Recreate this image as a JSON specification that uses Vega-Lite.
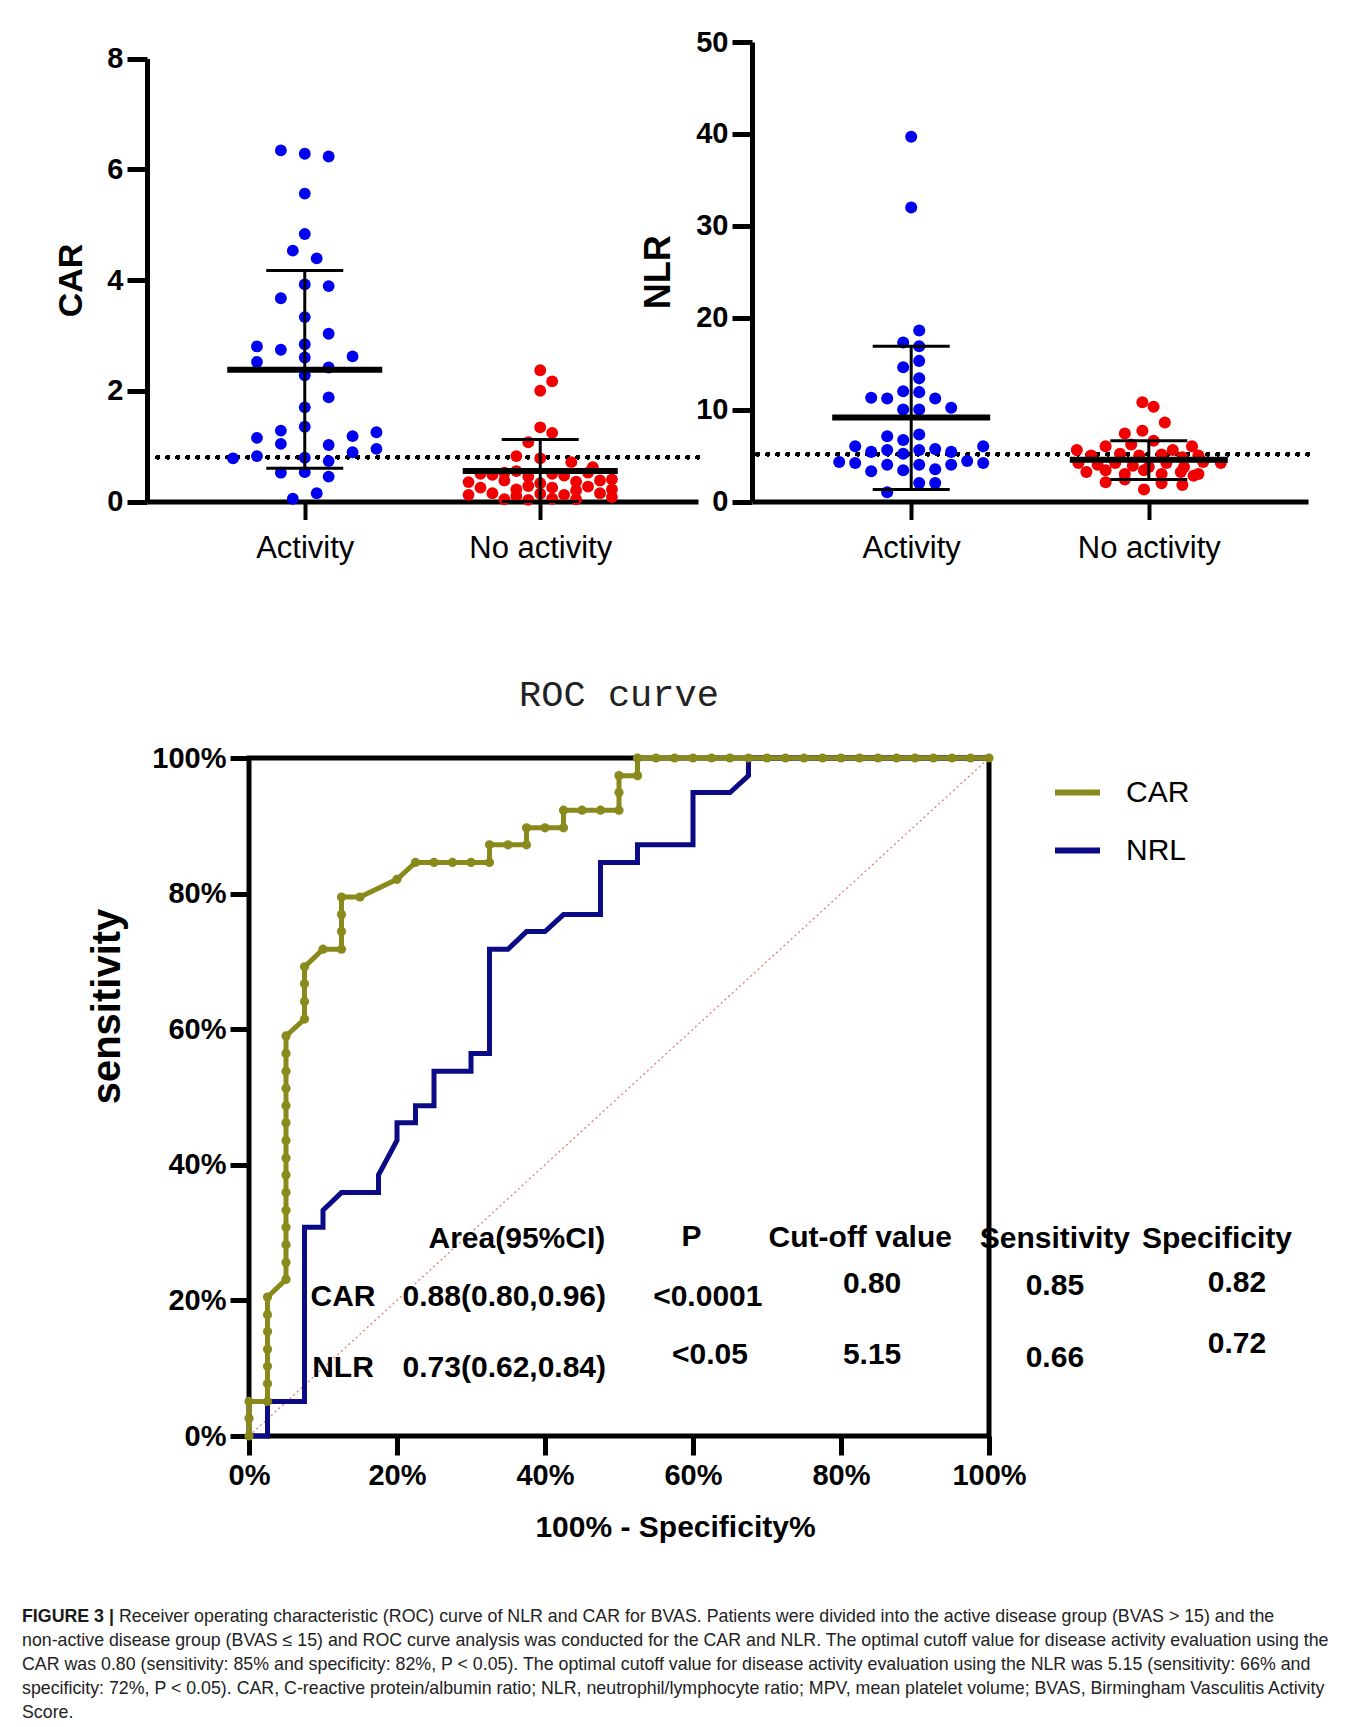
{
  "$schema": "https://vega.github.io/schema/vega-lite/v6.json",
  "background": "white",
  "padding": {"left": 22, "top": 28, "right": 5, "bottom": 3},
  "config": {
    "view": {"stroke": null},
    "font": "Liberation Sans",
    "axis": {"labelFont": "Liberation Sans", "titleFont": "Liberation Sans", "labelColor": "black", "titleColor": "black", "domainColor": "black", "tickColor": "black", "grid": false},
    "text": {"font": "Liberation Sans"},
    "tick": {"opacity": 1}
  },
  "datasets": {
    "car": [
      {"group": "Activity", "value": 6.34, "slot": -1},
      {"group": "Activity", "value": 6.28, "slot": 0},
      {"group": "Activity", "value": 6.23, "slot": 1},
      {"group": "Activity", "value": 5.56, "slot": 0},
      {"group": "Activity", "value": 4.83, "slot": 0},
      {"group": "Activity", "value": 4.53, "slot": -0.5},
      {"group": "Activity", "value": 4.39, "slot": 0.5},
      {"group": "Activity", "value": 3.92, "slot": 0},
      {"group": "Activity", "value": 3.89, "slot": 1},
      {"group": "Activity", "value": 3.67, "slot": -1},
      {"group": "Activity", "value": 3.33, "slot": 0},
      {"group": "Activity", "value": 3.03, "slot": 1},
      {"group": "Activity", "value": 2.80, "slot": -2},
      {"group": "Activity", "value": 2.74, "slot": -1},
      {"group": "Activity", "value": 2.84, "slot": 0},
      {"group": "Activity", "value": 2.60, "slot": 0},
      {"group": "Activity", "value": 2.62, "slot": 2},
      {"group": "Activity", "value": 2.52, "slot": -2},
      {"group": "Activity", "value": 2.42, "slot": 1},
      {"group": "Activity", "value": 2.28, "slot": 0},
      {"group": "Activity", "value": 1.88, "slot": 1},
      {"group": "Activity", "value": 1.70, "slot": 0},
      {"group": "Activity", "value": 1.35, "slot": 0},
      {"group": "Activity", "value": 1.28, "slot": -1},
      {"group": "Activity", "value": 1.25, "slot": 3},
      {"group": "Activity", "value": 1.15, "slot": -2},
      {"group": "Activity", "value": 1.18, "slot": 2},
      {"group": "Activity", "value": 1.04, "slot": -1},
      {"group": "Activity", "value": 1.02, "slot": 1},
      {"group": "Activity", "value": 0.95, "slot": 3},
      {"group": "Activity", "value": 0.89, "slot": 2},
      {"group": "Activity", "value": 0.78, "slot": -3},
      {"group": "Activity", "value": 0.82, "slot": -2},
      {"group": "Activity", "value": 0.79, "slot": 0},
      {"group": "Activity", "value": 0.73, "slot": 1},
      {"group": "Activity", "value": 0.52, "slot": -1},
      {"group": "Activity", "value": 0.53, "slot": 0},
      {"group": "Activity", "value": 0.45, "slot": 1},
      {"group": "Activity", "value": 0.15, "slot": 0.5},
      {"group": "Activity", "value": 0.05, "slot": -0.5},
      {"group": "No activity", "value": 2.37, "slot": 0},
      {"group": "No activity", "value": 2.17, "slot": 0.5},
      {"group": "No activity", "value": 2.0, "slot": 0},
      {"group": "No activity", "value": 1.34, "slot": 0},
      {"group": "No activity", "value": 1.24, "slot": 0.5},
      {"group": "No activity", "value": 1.07, "slot": -0.5},
      {"group": "No activity", "value": 0.82, "slot": -1},
      {"group": "No activity", "value": 0.78, "slot": 0},
      {"group": "No activity", "value": 0.71, "slot": 1.3},
      {"group": "No activity", "value": 0.62, "slot": 2.2},
      {"group": "No activity", "value": 0.50, "slot": -2.5},
      {"group": "No activity", "value": 0.48, "slot": -2.0},
      {"group": "No activity", "value": 0.52, "slot": -1.5},
      {"group": "No activity", "value": 0.55, "slot": -1.0},
      {"group": "No activity", "value": 0.45, "slot": -0.5},
      {"group": "No activity", "value": 0.50, "slot": 0.5},
      {"group": "No activity", "value": 0.47, "slot": 1.0},
      {"group": "No activity", "value": 0.52, "slot": 2.0},
      {"group": "No activity", "value": 0.40, "slot": 3.0},
      {"group": "No activity", "value": 0.35, "slot": -3.0},
      {"group": "No activity", "value": 0.38, "slot": -1.5},
      {"group": "No activity", "value": 0.33, "slot": 0},
      {"group": "No activity", "value": 0.36, "slot": 1.5},
      {"group": "No activity", "value": 0.38, "slot": 2.5},
      {"group": "No activity", "value": 0.25, "slot": -2.5},
      {"group": "No activity", "value": 0.22, "slot": -1.0},
      {"group": "No activity", "value": 0.28, "slot": -0.5},
      {"group": "No activity", "value": 0.25, "slot": 0.5},
      {"group": "No activity", "value": 0.20, "slot": 1.5},
      {"group": "No activity", "value": 0.27, "slot": 2.0},
      {"group": "No activity", "value": 0.22, "slot": 3.0},
      {"group": "No activity", "value": 0.12, "slot": -3.0},
      {"group": "No activity", "value": 0.15, "slot": -2.0},
      {"group": "No activity", "value": 0.10, "slot": -1.0},
      {"group": "No activity", "value": 0.14, "slot": 0},
      {"group": "No activity", "value": 0.12, "slot": 1.0},
      {"group": "No activity", "value": 0.15, "slot": 2.5},
      {"group": "No activity", "value": 0.08, "slot": 3.0},
      {"group": "No activity", "value": 0.04, "slot": -1.5},
      {"group": "No activity", "value": 0.03, "slot": -0.5},
      {"group": "No activity", "value": 0.05, "slot": 0.5},
      {"group": "No activity", "value": 0.04, "slot": 1.5}
    ],
    "carStats": [
      {"group": "Activity", "mean": 2.38, "lo": 0.60, "hi": 4.17},
      {"group": "No activity", "mean": 0.55, "lo": 0.0, "hi": 1.12}
    ],
    "nlr": [
      {"group": "Activity", "value": 39.7, "slot": 0},
      {"group": "Activity", "value": 32.0, "slot": 0},
      {"group": "Activity", "value": 18.6, "slot": 0.5},
      {"group": "Activity", "value": 17.3, "slot": -0.5},
      {"group": "Activity", "value": 16.9, "slot": 0.5},
      {"group": "Activity", "value": 15.3, "slot": 0.5},
      {"group": "Activity", "value": 14.6, "slot": -0.5},
      {"group": "Activity", "value": 13.4, "slot": 0.5},
      {"group": "Activity", "value": 12.0, "slot": -0.5},
      {"group": "Activity", "value": 11.9, "slot": 0.5},
      {"group": "Activity", "value": 11.3, "slot": -2.5},
      {"group": "Activity", "value": 11.2, "slot": -1.5},
      {"group": "Activity", "value": 11.2, "slot": 1.5},
      {"group": "Activity", "value": 10.2, "slot": 2.5},
      {"group": "Activity", "value": 10.0, "slot": -0.5},
      {"group": "Activity", "value": 10.0, "slot": 0.5},
      {"group": "Activity", "value": 7.1, "slot": -1.5},
      {"group": "Activity", "value": 7.3, "slot": 0.5},
      {"group": "Activity", "value": 6.7, "slot": -0.5},
      {"group": "Activity", "value": 6.0, "slot": -3.5},
      {"group": "Activity", "value": 6.0, "slot": 4.5},
      {"group": "Activity", "value": 5.7, "slot": 1.5},
      {"group": "Activity", "value": 5.6, "slot": -1.5},
      {"group": "Activity", "value": 5.6, "slot": 0.5},
      {"group": "Activity", "value": 5.4, "slot": -2.5},
      {"group": "Activity", "value": 5.4, "slot": 2.5},
      {"group": "Activity", "value": 5.2, "slot": -0.5},
      {"group": "Activity", "value": 4.3, "slot": -4.5},
      {"group": "Activity", "value": 4.4, "slot": 3.5},
      {"group": "Activity", "value": 4.2, "slot": 4.5},
      {"group": "Activity", "value": 4.2, "slot": -3.5},
      {"group": "Activity", "value": 4.0, "slot": -1.5},
      {"group": "Activity", "value": 4.0, "slot": 0.5},
      {"group": "Activity", "value": 4.0, "slot": 2.5},
      {"group": "Activity", "value": 3.4, "slot": -0.5},
      {"group": "Activity", "value": 3.5, "slot": 1.5},
      {"group": "Activity", "value": 3.3, "slot": -2.5},
      {"group": "Activity", "value": 2.0, "slot": 0.5},
      {"group": "Activity", "value": 2.0, "slot": 1.5},
      {"group": "Activity", "value": 1.0, "slot": -1.5},
      {"group": "No activity", "value": 10.8, "slot": -0.4},
      {"group": "No activity", "value": 10.3, "slot": 0.3},
      {"group": "No activity", "value": 8.6, "slot": 1.0},
      {"group": "No activity", "value": 7.4, "slot": -1.5},
      {"group": "No activity", "value": 7.7, "slot": -0.4},
      {"group": "No activity", "value": 6.6, "slot": 0.3},
      {"group": "No activity", "value": 6.0, "slot": -2.7},
      {"group": "No activity", "value": 6.0, "slot": 2.7},
      {"group": "No activity", "value": 6.2, "slot": -1.1},
      {"group": "No activity", "value": 5.6, "slot": -4.5},
      {"group": "No activity", "value": 5.6, "slot": 1.5},
      {"group": "No activity", "value": 5.0, "slot": -3.6},
      {"group": "No activity", "value": 5.2, "slot": -1.8},
      {"group": "No activity", "value": 5.0, "slot": -0.6},
      {"group": "No activity", "value": 5.1, "slot": 0.8},
      {"group": "No activity", "value": 4.8, "slot": 2.1},
      {"group": "No activity", "value": 5.0, "slot": 3.1},
      {"group": "No activity", "value": 4.2, "slot": -4.4},
      {"group": "No activity", "value": 4.0, "slot": -3.2},
      {"group": "No activity", "value": 4.2, "slot": -2.1},
      {"group": "No activity", "value": 3.9, "slot": -1.0},
      {"group": "No activity", "value": 3.75, "slot": 0},
      {"group": "No activity", "value": 4.2, "slot": 1.1},
      {"group": "No activity", "value": 3.75, "slot": 2.2},
      {"group": "No activity", "value": 4.3, "slot": 3.4},
      {"group": "No activity", "value": 4.2, "slot": 4.5},
      {"group": "No activity", "value": 3.2, "slot": -3.9},
      {"group": "No activity", "value": 3.4, "slot": -2.7},
      {"group": "No activity", "value": 3.0, "slot": -1.5},
      {"group": "No activity", "value": 3.4, "slot": -0.3},
      {"group": "No activity", "value": 3.0, "slot": 0.8},
      {"group": "No activity", "value": 3.2, "slot": 2.0},
      {"group": "No activity", "value": 3.0, "slot": 3.1},
      {"group": "No activity", "value": 2.1, "slot": -2.7},
      {"group": "No activity", "value": 2.4, "slot": -1.5},
      {"group": "No activity", "value": 2.0, "slot": 0.8},
      {"group": "No activity", "value": 1.8, "slot": 2.1},
      {"group": "No activity", "value": 1.3, "slot": -0.3},
      {"group": "No activity", "value": 2.8, "slot": 2.8}
    ],
    "nlrStats": [
      {"group": "Activity", "mean": 9.15, "lo": 1.3, "hi": 16.9},
      {"group": "No activity", "mean": 4.55, "lo": 2.4, "hi": 6.6}
    ],
    "roc": [
      {"curve": "NRL", "i": 0, "fpr": 0, "tpr": 0},
      {"curve": "NRL", "i": 1, "fpr": 2.5, "tpr": 0},
      {"curve": "NRL", "i": 2, "fpr": 2.5, "tpr": 5.1},
      {"curve": "NRL", "i": 3, "fpr": 7.5, "tpr": 5.1},
      {"curve": "NRL", "i": 4, "fpr": 7.5, "tpr": 30.8},
      {"curve": "NRL", "i": 5, "fpr": 10, "tpr": 30.8},
      {"curve": "NRL", "i": 6, "fpr": 10, "tpr": 33.3},
      {"curve": "NRL", "i": 7, "fpr": 12.5, "tpr": 35.9},
      {"curve": "NRL", "i": 8, "fpr": 17.5, "tpr": 35.9},
      {"curve": "NRL", "i": 9, "fpr": 17.5, "tpr": 38.5},
      {"curve": "NRL", "i": 10, "fpr": 20, "tpr": 43.6},
      {"curve": "NRL", "i": 11, "fpr": 20, "tpr": 46.2},
      {"curve": "NRL", "i": 12, "fpr": 22.5, "tpr": 46.2},
      {"curve": "NRL", "i": 13, "fpr": 22.5, "tpr": 48.7},
      {"curve": "NRL", "i": 14, "fpr": 25, "tpr": 48.7},
      {"curve": "NRL", "i": 15, "fpr": 25, "tpr": 53.8},
      {"curve": "NRL", "i": 16, "fpr": 30, "tpr": 53.8},
      {"curve": "NRL", "i": 17, "fpr": 30, "tpr": 56.4},
      {"curve": "NRL", "i": 18, "fpr": 32.5, "tpr": 56.4},
      {"curve": "NRL", "i": 19, "fpr": 32.5, "tpr": 71.8},
      {"curve": "NRL", "i": 20, "fpr": 35, "tpr": 71.8},
      {"curve": "NRL", "i": 21, "fpr": 37.5, "tpr": 74.4},
      {"curve": "NRL", "i": 22, "fpr": 40, "tpr": 74.4},
      {"curve": "NRL", "i": 23, "fpr": 42.5, "tpr": 76.9},
      {"curve": "NRL", "i": 24, "fpr": 47.5, "tpr": 76.9},
      {"curve": "NRL", "i": 25, "fpr": 47.5, "tpr": 84.6},
      {"curve": "NRL", "i": 26, "fpr": 52.5, "tpr": 84.6},
      {"curve": "NRL", "i": 27, "fpr": 52.5, "tpr": 87.2},
      {"curve": "NRL", "i": 28, "fpr": 60, "tpr": 87.2},
      {"curve": "NRL", "i": 29, "fpr": 60, "tpr": 94.9},
      {"curve": "NRL", "i": 30, "fpr": 65, "tpr": 94.9},
      {"curve": "NRL", "i": 31, "fpr": 67.5, "tpr": 97.4},
      {"curve": "NRL", "i": 32, "fpr": 67.5, "tpr": 100},
      {"curve": "NRL", "i": 33, "fpr": 100, "tpr": 100},
      {"curve": "CAR", "i": 0, "fpr": 0, "tpr": 0},
      {"curve": "CAR", "i": 1, "fpr": 0, "tpr": 2.6},
      {"curve": "CAR", "i": 2, "fpr": 0, "tpr": 5.1},
      {"curve": "CAR", "i": 3, "fpr": 2.5, "tpr": 5.1},
      {"curve": "CAR", "i": 4, "fpr": 2.5, "tpr": 7.7},
      {"curve": "CAR", "i": 5, "fpr": 2.5, "tpr": 10.3},
      {"curve": "CAR", "i": 6, "fpr": 2.5, "tpr": 12.8},
      {"curve": "CAR", "i": 7, "fpr": 2.5, "tpr": 15.4},
      {"curve": "CAR", "i": 8, "fpr": 2.5, "tpr": 17.9},
      {"curve": "CAR", "i": 9, "fpr": 2.5, "tpr": 20.5},
      {"curve": "CAR", "i": 10, "fpr": 5, "tpr": 23.1},
      {"curve": "CAR", "i": 11, "fpr": 5, "tpr": 25.6},
      {"curve": "CAR", "i": 12, "fpr": 5, "tpr": 28.2},
      {"curve": "CAR", "i": 13, "fpr": 5, "tpr": 30.8},
      {"curve": "CAR", "i": 14, "fpr": 5, "tpr": 33.3},
      {"curve": "CAR", "i": 15, "fpr": 5, "tpr": 35.9},
      {"curve": "CAR", "i": 16, "fpr": 5, "tpr": 38.5},
      {"curve": "CAR", "i": 17, "fpr": 5, "tpr": 41.0},
      {"curve": "CAR", "i": 18, "fpr": 5, "tpr": 43.6},
      {"curve": "CAR", "i": 19, "fpr": 5, "tpr": 46.2},
      {"curve": "CAR", "i": 20, "fpr": 5, "tpr": 48.7},
      {"curve": "CAR", "i": 21, "fpr": 5, "tpr": 51.3},
      {"curve": "CAR", "i": 22, "fpr": 5, "tpr": 53.8},
      {"curve": "CAR", "i": 23, "fpr": 5, "tpr": 56.4},
      {"curve": "CAR", "i": 24, "fpr": 5, "tpr": 59.0},
      {"curve": "CAR", "i": 25, "fpr": 7.5, "tpr": 61.5},
      {"curve": "CAR", "i": 26, "fpr": 7.5, "tpr": 64.1},
      {"curve": "CAR", "i": 27, "fpr": 7.5, "tpr": 66.7},
      {"curve": "CAR", "i": 28, "fpr": 7.5, "tpr": 69.2},
      {"curve": "CAR", "i": 29, "fpr": 10, "tpr": 71.8},
      {"curve": "CAR", "i": 30, "fpr": 12.5, "tpr": 71.8},
      {"curve": "CAR", "i": 31, "fpr": 12.5, "tpr": 74.4},
      {"curve": "CAR", "i": 32, "fpr": 12.5, "tpr": 76.9},
      {"curve": "CAR", "i": 33, "fpr": 12.5, "tpr": 79.5},
      {"curve": "CAR", "i": 34, "fpr": 15, "tpr": 79.5},
      {"curve": "CAR", "i": 35, "fpr": 20, "tpr": 82.1},
      {"curve": "CAR", "i": 36, "fpr": 22.5, "tpr": 84.6},
      {"curve": "CAR", "i": 37, "fpr": 25, "tpr": 84.6},
      {"curve": "CAR", "i": 38, "fpr": 27.5, "tpr": 84.6},
      {"curve": "CAR", "i": 39, "fpr": 30, "tpr": 84.6},
      {"curve": "CAR", "i": 40, "fpr": 32.5, "tpr": 84.6},
      {"curve": "CAR", "i": 41, "fpr": 32.5, "tpr": 87.2},
      {"curve": "CAR", "i": 42, "fpr": 35, "tpr": 87.2},
      {"curve": "CAR", "i": 43, "fpr": 37.5, "tpr": 87.2},
      {"curve": "CAR", "i": 44, "fpr": 37.5, "tpr": 89.7},
      {"curve": "CAR", "i": 45, "fpr": 40, "tpr": 89.7},
      {"curve": "CAR", "i": 46, "fpr": 42.5, "tpr": 89.7},
      {"curve": "CAR", "i": 47, "fpr": 42.5, "tpr": 92.3},
      {"curve": "CAR", "i": 48, "fpr": 45, "tpr": 92.3},
      {"curve": "CAR", "i": 49, "fpr": 47.5, "tpr": 92.3},
      {"curve": "CAR", "i": 50, "fpr": 50, "tpr": 92.3},
      {"curve": "CAR", "i": 51, "fpr": 50, "tpr": 94.9},
      {"curve": "CAR", "i": 52, "fpr": 50, "tpr": 97.4},
      {"curve": "CAR", "i": 53, "fpr": 52.5, "tpr": 97.4},
      {"curve": "CAR", "i": 54, "fpr": 52.5, "tpr": 100},
      {"curve": "CAR", "i": 55, "fpr": 55, "tpr": 100},
      {"curve": "CAR", "i": 56, "fpr": 57.5, "tpr": 100},
      {"curve": "CAR", "i": 57, "fpr": 60, "tpr": 100},
      {"curve": "CAR", "i": 58, "fpr": 62.5, "tpr": 100},
      {"curve": "CAR", "i": 59, "fpr": 65, "tpr": 100},
      {"curve": "CAR", "i": 60, "fpr": 67.5, "tpr": 100},
      {"curve": "CAR", "i": 61, "fpr": 70, "tpr": 100},
      {"curve": "CAR", "i": 62, "fpr": 72.5, "tpr": 100},
      {"curve": "CAR", "i": 63, "fpr": 75, "tpr": 100},
      {"curve": "CAR", "i": 64, "fpr": 77.5, "tpr": 100},
      {"curve": "CAR", "i": 65, "fpr": 80, "tpr": 100},
      {"curve": "CAR", "i": 66, "fpr": 82.5, "tpr": 100},
      {"curve": "CAR", "i": 67, "fpr": 85, "tpr": 100},
      {"curve": "CAR", "i": 68, "fpr": 87.5, "tpr": 100},
      {"curve": "CAR", "i": 69, "fpr": 90, "tpr": 100},
      {"curve": "CAR", "i": 70, "fpr": 92.5, "tpr": 100},
      {"curve": "CAR", "i": 71, "fpr": 95, "tpr": 100},
      {"curve": "CAR", "i": 72, "fpr": 97.5, "tpr": 100},
      {"curve": "CAR", "i": 73, "fpr": 100, "tpr": 100}
    ],
    "diag": [
      {"fpr": 0, "tpr": 0},
      {"fpr": 100, "tpr": 100}
    ],
    "rocTable": [
      {"t": "Area(95%CI)", "fpr": 36.2, "tpr": 29.1},
      {"t": "P", "fpr": 59.8, "tpr": 29.4},
      {"t": "Cut-off value", "fpr": 82.6, "tpr": 29.2},
      {"t": "Sensitivity", "fpr": 108.9, "tpr": 29.1},
      {"t": "Specificity", "fpr": 130.8, "tpr": 29.1},
      {"t": "CAR", "fpr": 12.7, "tpr": 20.5},
      {"t": "0.88(0.80,0.96)", "fpr": 34.5, "tpr": 20.5},
      {"t": "<0.0001", "fpr": 62.0, "tpr": 20.5},
      {"t": "0.80", "fpr": 84.2, "tpr": 22.4},
      {"t": "0.85", "fpr": 108.9, "tpr": 22.1},
      {"t": "0.82", "fpr": 133.5, "tpr": 22.6},
      {"t": "NLR", "fpr": 12.7, "tpr": 10.0},
      {"t": "0.73(0.62,0.84)", "fpr": 34.5, "tpr": 10.0},
      {"t": "<0.05", "fpr": 62.3, "tpr": 11.9},
      {"t": "5.15", "fpr": 84.2, "tpr": 11.9},
      {"t": "0.66", "fpr": 108.9, "tpr": 11.5},
      {"t": "0.72", "fpr": 133.5, "tpr": 13.6}
    ],
    "caption": [
      {"line": 1, "part": "head", "text": "FIGURE 3 |"},
      {"line": 1, "part": "body1", "text": "Receiver operating characteristic (ROC) curve of NLR and CAR for BVAS. Patients were divided into the active disease group (BVAS > 15) and the"},
      {"line": 2, "part": "body", "text": "non-active disease group (BVAS ≤ 15) and ROC curve analysis was conducted for the CAR and NLR. The optimal cutoff value for disease activity evaluation using the"},
      {"line": 3, "part": "body", "text": "CAR was 0.80 (sensitivity: 85% and specificity: 82%, P < 0.05). The optimal cutoff value for disease activity evaluation using the NLR was 5.15 (sensitivity: 66% and"},
      {"line": 4, "part": "body", "text": "specificity: 72%, P < 0.05). CAR, C-reactive protein/albumin ratio; NLR, neutrophil/lymphocyte ratio; MPV, mean platelet volume; BVAS, Birmingham Vasculitis Activity"},
      {"line": 5, "part": "body", "text": "Score."}
    ]
  },
  "spacing": 0,
  "resolve": {"scale": {"color": "independent"}, "legend": {"color": "independent"}},
  "vconcat": [
    {
      "hconcat": [
        {"width": 71, "height": 631, "data": {"values": []}, "mark": "point", "encoding": {}},
        {
          "width": 551,
          "height": 459.5,
          "layer": [
            {
              "data": {"name": "car"},
              "mark": {"type": "rule", "strokeDash": [0.5, 9.5], "strokeCap": "round", "strokeWidth": 4, "color": "black"},
              "encoding": {"y": {"datum": 0.8, "type": "quantitative", "scale": {"domain": [0, 8], "nice": false, "range": [459.5, 16.5]}}}
            },
            {
              "data": {"name": "car"},
              "mark": {"type": "circle", "size": 140, "opacity": 1},
              "encoding": {
                "x": {"field": "group", "type": "nominal", "scale": {"type": "point", "padding": 0.67, "domain": ["Activity", "No activity"]},
                  "axis": {"title": null, "labelAngle": 0, "labelFontSize": 31, "labelFontWeight": "normal", "labelPadding": 14, "tickSize": 18, "tickWidth": 4, "domainWidth": 5}},
                "xOffset": {"field": "slot", "type": "quantitative", "scale": {"domain": [-1, 1], "range": [-23.9, 23.9]}},
                "y": {"field": "value", "type": "quantitative", "scale": {"domain": [0, 8], "nice": false, "range": [459.5, 16.5]},
                  "axis": {"values": [0, 2, 4, 6, 8], "format": "d", "title": "CAR", "titleFontSize": 34, "titleFontWeight": "bold", "titlePadding": 18, "labelFontSize": 29, "labelFontWeight": "bold", "labelPadding": 4, "tickSize": 20, "tickWidth": 5, "domainWidth": 5}},
                "color": {"field": "group", "type": "nominal", "scale": {"domain": ["Activity", "No activity"], "range": ["#0000f0", "#f00000"]}, "legend": null}
              }
            },
            {
              "data": {"name": "carStats"},
              "mark": {"type": "rule", "strokeWidth": 3, "color": "black"},
              "encoding": {"x": {"field": "group", "type": "nominal"}, "y": {"field": "lo", "type": "quantitative"}, "y2": {"field": "hi"}}
            },
            {
              "data": {"name": "carStats"},
              "mark": {"type": "tick", "orient": "horizontal", "size": 77, "thickness": 3, "color": "black", "opacity": 1},
              "encoding": {"x": {"field": "group", "type": "nominal"}, "y": {"field": "hi", "type": "quantitative"}}
            },
            {
              "data": {"name": "carStats"},
              "mark": {"type": "tick", "orient": "horizontal", "size": 77, "thickness": 3, "color": "black", "opacity": 1},
              "encoding": {"x": {"field": "group", "type": "nominal"}, "y": {"field": "lo", "type": "quantitative"}}
            },
            {
              "data": {"name": "carStats"},
              "mark": {"type": "tick", "orient": "horizontal", "size": 155, "thickness": 6, "color": "black", "opacity": 1},
              "encoding": {"x": {"field": "group", "type": "nominal"}, "y": {"field": "mean", "type": "quantitative"}}
            }
          ]
        },
        {
          "width": 556,
          "height": 459.5,
          "layer": [
            {
              "data": {"name": "nlr"},
              "mark": {"type": "rule", "strokeDash": [0.5, 9.5], "strokeCap": "round", "strokeWidth": 4, "color": "black"},
              "encoding": {"y": {"datum": 5.15, "type": "quantitative", "scale": {"domain": [0, 50], "nice": false}}}
            },
            {
              "data": {"name": "nlr"},
              "mark": {"type": "circle", "size": 145, "opacity": 1},
              "encoding": {
                "x": {"field": "group", "type": "nominal", "scale": {"type": "point", "padding": 0.67, "domain": ["Activity", "No activity"]},
                  "axis": {"title": null, "labelAngle": 0, "labelFontSize": 31, "labelFontWeight": "normal", "labelPadding": 14, "tickSize": 18, "tickWidth": 4, "domainWidth": 5}},
                "xOffset": {"field": "slot", "type": "quantitative", "scale": {"domain": [-1, 1], "range": [-16, 16]}},
                "y": {"field": "value", "type": "quantitative", "scale": {"domain": [0, 50], "nice": false},
                  "axis": {"values": [0, 10, 20, 30, 40, 50], "title": "NLR", "titleFontSize": 36, "titleFontWeight": "bold", "titlePadding": 18, "labelFontSize": 29, "labelFontWeight": "bold", "labelPadding": 4, "tickSize": 20, "tickWidth": 5, "domainWidth": 5}},
                "color": {"field": "group", "type": "nominal", "scale": {"domain": ["Activity", "No activity"], "range": ["#0000f0", "#f00000"]}, "legend": null}
              }
            },
            {
              "data": {"name": "nlrStats"},
              "mark": {"type": "rule", "strokeWidth": 3, "color": "black"},
              "encoding": {"x": {"field": "group", "type": "nominal"}, "y": {"field": "lo", "type": "quantitative"}, "y2": {"field": "hi"}}
            },
            {
              "data": {"name": "nlrStats"},
              "mark": {"type": "tick", "orient": "horizontal", "size": 77, "thickness": 3, "color": "black", "opacity": 1},
              "encoding": {"x": {"field": "group", "type": "nominal"}, "y": {"field": "hi", "type": "quantitative"}}
            },
            {
              "data": {"name": "nlrStats"},
              "mark": {"type": "tick", "orient": "horizontal", "size": 77, "thickness": 3, "color": "black", "opacity": 1},
              "encoding": {"x": {"field": "group", "type": "nominal"}, "y": {"field": "lo", "type": "quantitative"}}
            },
            {
              "data": {"name": "nlrStats"},
              "mark": {"type": "tick", "orient": "horizontal", "size": 158, "thickness": 6, "color": "black", "opacity": 1},
              "encoding": {"x": {"field": "group", "type": "nominal"}, "y": {"field": "mean", "type": "quantitative"}}
            }
          ]
        }
      ],
      "spacing": 54,
      "bounds": "flush",
      "resolve": {"scale": {"xOffset": "independent", "x": "independent", "y": "independent"}}
    },
    {
      "hconcat": [
        {"width": 173, "height": 847, "data": {"values": []}, "mark": "point", "encoding": {}},
        {
          "width": 740,
          "height": 678,
          "view": {"stroke": "black", "strokeWidth": 5},
          "title": {"text": "ROC curve", "font": "Liberation Mono", "fontSize": 37, "fontWeight": "normal", "color": "#222222", "frame": "group", "anchor": "middle", "offset": 30},
          "layer": [
            {
              "data": {"name": "diag"},
              "mark": {"type": "line", "strokeDash": [2, 3], "strokeWidth": 1.2, "color": "#e07070"},
              "encoding": {
                "x": {"field": "fpr", "type": "quantitative", "scale": {"domain": [0, 100], "nice": false},
                  "axis": {"values": [0, 20, 40, 60, 80, 100], "labelExpr": "datum.value + '%'", "title": "100% - Specificity%", "titleFontSize": 30, "titleFontWeight": "bold", "titlePadding": 22, "titleX": 426, "labelFontSize": 29, "labelFontWeight": "bold", "labelPadding": 6, "tickSize": 19, "tickWidth": 5, "domain": false, "labelFlush": false}},
                "y": {"field": "tpr", "type": "quantitative", "scale": {"domain": [0, 100], "nice": false},
                  "axis": {"values": [0, 20, 40, 60, 80, 100], "labelExpr": "datum.value + '%'", "title": "sensitivity", "titleFontSize": 40, "titleFontWeight": "bold", "titlePadding": 24, "titleY": 248, "labelFontSize": 29, "labelFontWeight": "bold", "labelPadding": 4, "tickSize": 19, "tickWidth": 5, "domain": false, "labelFlush": false}}
              }
            },
            {
              "data": {"name": "roc"},
              "mark": {"type": "line", "strokeWidth": 5, "interpolate": "linear"},
              "encoding": {
                "x": {"field": "fpr", "type": "quantitative"},
                "y": {"field": "tpr", "type": "quantitative"},
                "order": {"field": "i", "type": "quantitative"},
                "color": {"field": "curve", "type": "nominal", "scale": {"domain": ["CAR", "NRL"], "range": ["#8a8a1c", "#0b0b86"]},
                  "legend": {"title": null, "orient": "right", "offset": -252, "padding": 9, "symbolType": "stroke", "symbolSize": 2025, "symbolStrokeWidth": 6, "labelFontSize": 30, "labelFont": "Liberation Sans", "labelColor": "black", "rowPadding": 17, "labelOffset": 23}}
              }
            },
            {
              "data": {"name": "roc"},
              "transform": [{"filter": "datum.curve == 'CAR'"}],
              "mark": {"type": "circle", "size": 85, "opacity": 1, "color": "#8a8a1c"},
              "encoding": {
                "x": {"field": "fpr", "type": "quantitative"},
                "y": {"field": "tpr", "type": "quantitative"}
              }
            },
            {
              "data": {"name": "rocTable"},
              "mark": {"type": "text", "fontSize": 30, "fontWeight": "bold", "align": "center", "baseline": "middle", "color": "black", "font": "Liberation Sans"},
              "encoding": {
                "x": {"field": "fpr", "type": "quantitative"},
                "y": {"field": "tpr", "type": "quantitative"},
                "text": {"field": "t", "type": "nominal"}
              }
            }
          ]
        }
      ],
      "spacing": 54,
      "bounds": "flush"
    },
    {
      "width": 1313,
      "height": 120,
      "data": {"name": "caption"},
      "encoding": {
        "x": {"datum": 0, "type": "quantitative", "scale": {"domain": [0, 1]}, "axis": null},
        "y": {"field": "line", "type": "ordinal", "scale": {"type": "band", "domain": [1, 2, 3, 4, 5], "paddingInner": 0, "paddingOuter": 0}, "axis": null},
        "text": {"field": "text", "type": "nominal"}
      },
      "layer": [
        {"transform": [{"filter": "datum.part == 'head'"}], "mark": {"type": "text", "align": "left", "baseline": "middle", "fontSize": 17.8, "fontWeight": "bold", "color": "#1a1a1a"}},
        {"transform": [{"filter": "datum.part == 'body1'"}], "mark": {"type": "text", "align": "left", "baseline": "middle", "fontSize": 17.8, "dx": 97, "color": "#222222"}},
        {"transform": [{"filter": "datum.part == 'body'"}], "mark": {"type": "text", "align": "left", "baseline": "middle", "fontSize": 17.8, "color": "#222222"}}
      ]
    }
  ]
}
